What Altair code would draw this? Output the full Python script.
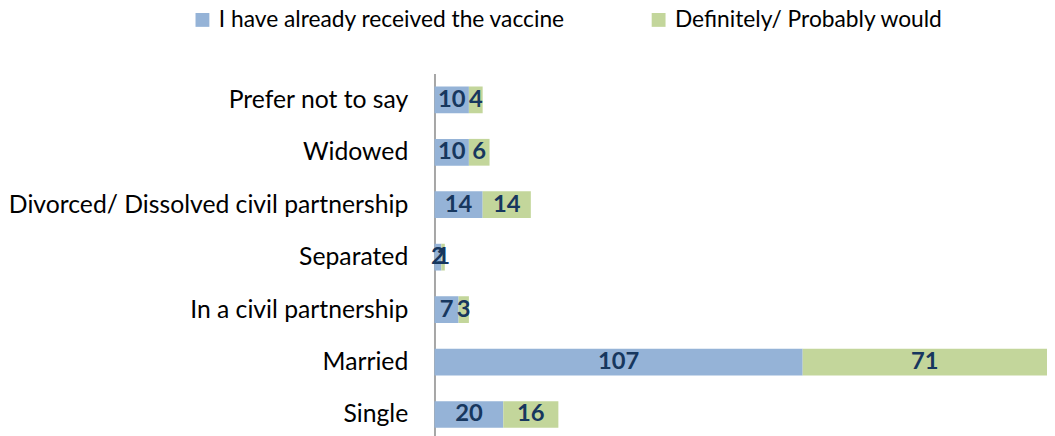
import altair as alt
import pandas as pd

categories = ["Prefer not to say", "Widowed", "Divorced/ Dissolved civil partnership",
              "Separated", "In a civil partnership", "Married", "Single"]
received = [10, 10, 14, 2, 7, 107, 20]
would = [4, 6, 14, 1, 3, 71, 16]
series = ["I have already received the vaccine", "Definitely/ Probably would"]
colors = ["#95B3D7", "#C3D69B"]

rows = []
for c, a, b in zip(categories, received, would):
    rows.append({"cat": c, "series": series[0], "value": a, "ord": 0})
    rows.append({"cat": c, "series": series[1], "value": b, "ord": 1})
df = pd.DataFrame(rows)

FONT = "Lato"

base = alt.Chart(df).transform_stack(
    stack="value", groupby=["cat"], as_=["x0", "x1"],
    sort=[alt.SortField("ord", order="ascending")]
).transform_calculate(mid="(datum.x0 + datum.x1) / 2")

y = alt.Y("cat:N", sort=categories, title=None,
          scale=alt.Scale(paddingInner=0.49, paddingOuter=0.245),
          axis=alt.Axis(labelFont=FONT, labelFontSize=25, labelColor="#000000",
                        labelPadding=27, ticks=False, domainColor="#A6A6A6",
                        domainWidth=2, labelLimit=600))
xs = alt.Scale(domain=[0, 178], nice=False)

bars = base.mark_bar().encode(
    y=y,
    x=alt.X("x0:Q", scale=xs, axis=None),
    x2="x1:Q",
    color=alt.Color("series:N", sort=series,
                    scale=alt.Scale(domain=series, range=colors),
                    legend=alt.Legend(title=None, orient="none", direction="horizontal",
                                      legendX=-246, legendY=-66,
                                      symbolType="square", symbolSize=196,
                                      symbolStrokeWidth=0,
                                      labelFont=FONT, labelFontSize=23,
                                      labelColor="#000000", labelOffset=5,
                                      columnPadding=82, labelLimit=600)),
)

labels = base.mark_text(font=FONT, fontSize=24, fontWeight="bold",
                        color="#17375E", align="center", baseline="middle").encode(
    y=alt.Y("cat:N", sort=categories),
    x=alt.X("mid:Q", scale=xs),
    text="value:Q",
)

chart = (bars + labels).properties(
    width=619, height=371,
    autosize=alt.AutoSizeParams(type="none"),
    padding={"left": 431, "top": 64, "right": 0, "bottom": 0},
).configure_view(stroke=None)

chart.save("out.html", embed_options={"renderer": "svg", "actions": False})
